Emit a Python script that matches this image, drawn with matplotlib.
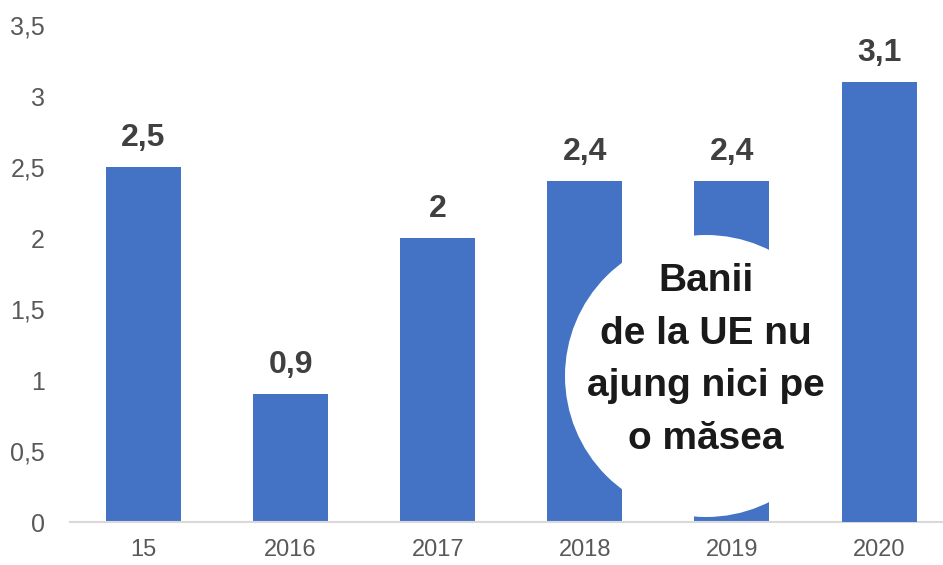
import matplotlib.pyplot as plt
from matplotlib.patches import Ellipse

years = ['15', '2016', '2017', '2018', '2019', '2020']
values = [2.5, 0.9, 2.0, 2.4, 2.4, 3.1]
value_labels = ['2,5', '0,9', '2', '2,4', '2,4', '3,1']
y_ticks = [0, 0.5, 1, 1.5, 2, 2.5, 3, 3.5]
y_tick_labels = ['0', '0,5', '1', '1,5', '2', '2,5', '3', '3,5']
bubble_text = 'Banii\nde la UE nu\najung nici pe\no măsea'

plt.rcParams['font.family'] = ['Liberation Sans', 'DejaVu Sans']

W, H = 943, 565
fig = plt.figure(figsize=(W / 100, H / 100), dpi=100)
ax = fig.add_axes([70 / W, 43 / H, 1 - 70 / W, (522 - 25) / H])

x = list(range(len(years)))
bars = ax.bar(x, values, width=0.51, color='#4472C4', zorder=2)
bars[5].set_zorder(4)

for xi, v, lab in zip(x, values, value_labels):
    ax.annotate(lab, (xi, v), xytext=(0, 21), textcoords='offset points',
                ha='center', va='center', fontsize=23, fontweight='bold',
                color='#404040', zorder=6)

ax.set_xlim(-0.5, 5.435)
ax.set_ylim(0, 3.5)
ax.set_yticks(y_ticks)
ax.set_yticklabels(y_tick_labels)
ax.set_xticks(x)
ax.set_xticklabels(years)
ax.tick_params(axis='y', length=0, pad=18, labelsize=18, labelcolor='#595959')
ax.tick_params(axis='x', length=0, pad=12, labelsize=17, labelcolor='#595959')
for s in ['top', 'right', 'left']:
    ax.spines[s].set_visible(False)
ax.spines['bottom'].set_color('#d9d9d9')
ax.spines['bottom'].set_linewidth(1.5)

# white bubble with the caption
cx, cy, r = 706, H - 376, 141
bubble = Ellipse((cx / W, cy / H), 2 * r / W, 2 * r / H, transform=fig.transFigure,
                 facecolor='white', edgecolor='none', zorder=3, clip_on=False)
ax.add_patch(bubble)
ax.text(cx / W, (H - 360) / H, bubble_text, transform=fig.transFigure,
        ha='center', va='center', fontsize=28, fontweight='bold',
        color='#1a1a1a', linespacing=1.6, zorder=5)

fig.savefig('out.png', dpi=100)
